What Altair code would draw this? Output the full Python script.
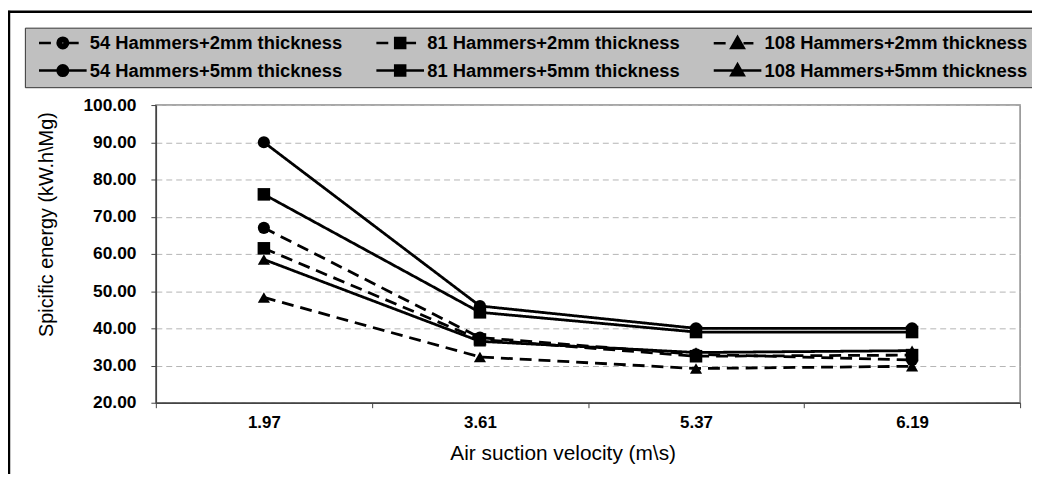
import altair as alt
import pandas as pd

velocities = ["1.97", "3.61", "5.37", "6.19"]
series_names = [
    "54 Hammers+2mm thickness",
    "81 Hammers+2mm thickness",
    "108 Hammers+2mm thickness",
    "54 Hammers+5mm thickness",
    "81 Hammers+5mm thickness",
    "108 Hammers+5mm thickness",
]
hammers = ["54", "81", "108", "54", "81", "108"]
thickness = ["2mm", "2mm", "2mm", "5mm", "5mm", "5mm"]

v54_2 = [67.0, 37.5, 33.0, 31.5]
v81_2 = [61.5, 37.0, 32.5, 32.8]
v108_2 = [48.3, 32.3, 29.2, 29.8]
v54_5 = [90.0, 46.0, 40.0, 40.0]
v81_5 = [76.0, 44.3, 39.0, 39.0]
v108_5 = [58.5, 36.5, 33.5, 34.0]
all_values = [v54_2, v81_2, v108_2, v54_5, v81_5, v108_5]

y_ticks = [20, 30, 40, 50, 60, 70, 80, 90, 100]

rows = []
for name, h, t, vals in zip(series_names, hammers, thickness, all_values):
    for vel, val in zip(velocities, vals):
        rows.append({"series": name, "hammers": h, "thickness": t, "vel": vel, "value": val})
df = pd.DataFrame(rows)

FONT = "Liberation Sans"


# legend symbol paths (stroke-only): line/dash + nested outlines forming a solid marker
def circle_path(r):
    return f"M{-r},0 A{r},{r} 0 1 0 {r},0 A{r},{r} 0 1 0 {-r},0 Z "


def square_path(h):
    return f"M{-h},{-h} L{h},{-h} L{h},{h} L{-h},{h} Z "


def tri_path(s):
    cy = 0.2
    pts = [(0, -1.25), (1.25, 0.93), (-1.25, 0.93)]
    p = [(x * s, cy + (y - cy) * s) for x, y in pts]
    return f"M{p[0][0]:.3f},{p[0][1]:.3f} L{p[1][0]:.3f},{p[1][1]:.3f} L{p[2][0]:.3f},{p[2][1]:.3f} Z "


circ = "".join(circle_path(r) for r in (1.05, 0.6, 0.15))
sq = "".join(square_path(h) for h in (1.0, 0.55, 0.1))
tri = "".join(tri_path(s) for s in (1.0, 0.55, 0.15))
dash = "M-4.8,0 L-2.4,0 M1.2,0 L3.2,0 "
solid = "M-4.8,0 L4.8,0 "
legend_paths = [dash + circ, dash + sq, dash + tri,
                solid + circ, solid + sq, solid + tri]

x_enc = alt.X(
    "vel:N",
    sort=velocities,
    scale=alt.Scale(type="band", paddingInner=0, paddingOuter=0),
    axis=alt.Axis(
        title="Air suction velocity (m\\s)",
        labelAngle=0,
        tickBand="extent",
        grid=False,
        labelFont=FONT, labelFontSize=17, labelFontWeight="bold", labelColor="black",
        labelPadding=7,
        titleFont=FONT, titleFontSize=21, titleFontWeight="normal", titleColor="black",
        titleX=410, titleY=51, titleAlign="center", titleBaseline="middle",
        domainColor="#444444", domainWidth=1.5, tickColor="#444444", tickSize=5,
    ),
)
y_enc = alt.Y(
    "value:Q",
    scale=alt.Scale(domain=[20, 100], nice=False, zero=False),
    axis=alt.Axis(
        title="Spicific  energy (kW.h\\Mg)",
        values=y_ticks,
        format=".2f",
        labelFont=FONT, labelFontSize=17.5, labelFontWeight="bold", labelColor="black",
        labelPadding=15,
        titleFont=FONT, titleFontSize=20, titleFontWeight="normal", titleColor="black",
        titleX=-110, titleY=120, titleAlign="center", titleBaseline="middle", titleAngle=270,
        grid=True, gridColor="#b4b4b4", gridDash=[6, 4], gridWidth=1,
        domainColor="#444444", domainWidth=1.5, tickColor="#444444", tickSize=5,
    ),
)

lines = alt.Chart(df).mark_line(color="black", strokeWidth=2.8).encode(
    x=x_enc,
    y=y_enc,
    detail="series:N",
    strokeDash=alt.StrokeDash(
        "thickness:N",
        scale=alt.Scale(domain=["2mm", "5mm"], range=[[12, 7], [1, 0]]),
        legend=None,
    ),
)


def marker_layer(h, shape, size):
    return alt.Chart(df).transform_filter(alt.datum.hammers == h).mark_point(
        shape=shape, filled=True, fill="black", stroke="black", strokeWidth=0, size=size, opacity=1
    ).encode(x=x_enc, y=y_enc)


pts54 = marker_layer("54", "circle", 150)
pts81 = marker_layer("81", "square", 160)
pts108 = marker_layer("108", "triangle-up", 150)

legend_layer = alt.Chart(df).transform_filter("false").mark_point(
    filled=False, color="black", strokeWidth=2.6, opacity=1
).encode(
    x=x_enc,
    y=y_enc,
    shape=alt.Shape(
        "series:N",
        scale=alt.Scale(domain=series_names, range=legend_paths),
        legend=alt.Legend(
            title=None,
            orient="none",
            direction="horizontal",
            legendX=-132,
            legendY=-78,
            columns=3,
            fillColor="#c0c0c0",
            strokeColor="#333333",
            padding=6,
            columnPadding=25,
            rowPadding=5,
            labelFont=FONT,
            labelFontSize=18.5,
            labelFontWeight="bold",
            labelColor="black",
            labelLimit=500,
            labelOffset=18,
            symbolOffset=23,
            symbolSize=100,
            symbolStrokeWidth=2.6,
            symbolStrokeColor="black",
            symbolOpacity=1,
        ),
    ),
)

frame_df = pd.DataFrame({"k": [0]})
frame_top = alt.Chart(frame_df).mark_rule(color="black", strokeWidth=2.5).encode(
    x=alt.value(-149), x2=alt.value(900), y=alt.value(-94)
)
frame_left = alt.Chart(frame_df).mark_rule(color="black", strokeWidth=2.5).encode(
    x=alt.value(-148), y=alt.value(-95), y2=alt.value(400)
)

chart = (
    alt.layer(lines, pts54, pts81, pts108, legend_layer, frame_top, frame_left)
    .properties(
        width=871,
        height=300,
        padding={"left": 149, "top": 96, "right": 12, "bottom": 70},
        autosize=alt.AutoSizeParams(type="none"),
        background="white",
    )
    .configure_view(stroke="#8a8a8a", strokeWidth=1.5)
)

chart.save("out.html", embed_options={"renderer": "svg", "actions": False})
